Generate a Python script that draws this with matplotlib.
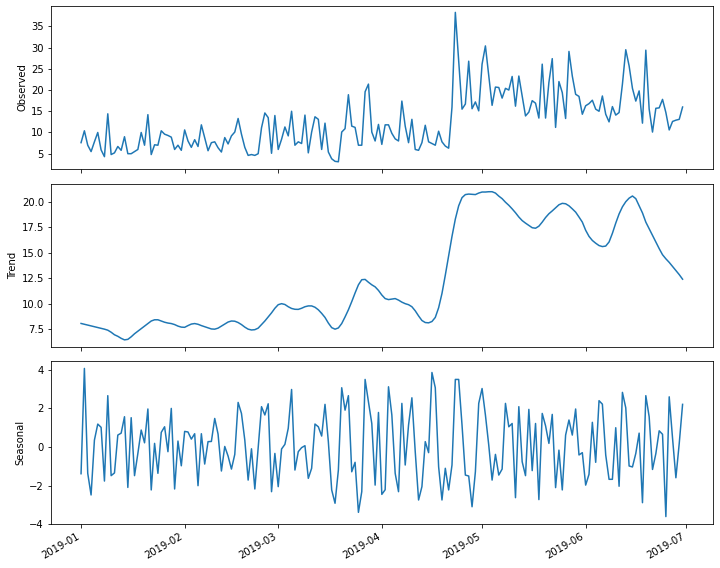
"""
Décomposition saisonnière : observé, tendance et saisonnalité (jan.-juin 2019).
"""
import numpy as np
import pandas as pd
import matplotlib
matplotlib.use('Agg')  # pas d'écran
import matplotlib.pyplot as plt

# ── Données (une valeur par jour) ───────────────────────────────────────────
dates = pd.date_range('2019-01-01', '2019-06-30', freq='D')

observed = [
    7.6, 10.4, 7.0, 5.5, 7.8, 10.0, 5.9, 4.3, 14.4, 4.8,
    5.2, 6.7, 5.8, 9.0, 5.0, 5.0, 5.5, 6.0, 10.0, 7.0,
    14.2, 4.8, 7.1, 7.0, 10.4, 9.6, 9.3, 8.9, 6.0, 7.0,
    5.8, 10.6, 8.0, 6.5, 8.3, 6.7, 11.8, 8.8, 5.7, 7.6,
    7.8, 6.4, 5.4, 8.8, 7.3, 9.2, 10.1, 13.3, 9.6, 6.5,
    4.6, 4.8, 4.6, 5.0, 11.1, 14.6, 13.5, 5.1, 14.0, 6.0,
    8.4, 11.3, 9.2, 15.0, 7.0, 7.8, 7.4, 14.1, 5.2, 10.1,
    13.7, 13.1, 6.0, 12.2, 5.4, 3.8, 3.2, 3.1, 10.1, 10.9,
    18.9, 11.5, 11.2, 7.0, 7.0, 19.6, 21.4, 10.1, 8.0, 11.9,
    7.2, 11.8, 11.8, 9.8, 8.5, 8.0, 17.4, 11.5, 7.6, 13.1,
    6.0, 5.8, 7.6, 11.7, 7.8, 7.4, 7.0, 10.3, 7.8, 6.8,
    6.3, 16.0, 38.3, 27.0, 15.5, 16.7, 26.8, 15.6, 17.2, 15.1,
    26.1, 30.4, 23.3, 16.4, 20.7, 20.6, 18.1, 20.4, 20.0, 23.2,
    16.2, 23.3, 18.6, 13.9, 14.8, 17.5, 16.9, 13.4, 26.1, 13.4,
    21.8, 27.4, 11.2, 22.0, 19.4, 13.3, 29.1, 23.3, 19.0, 18.5,
    14.3, 16.3, 16.8, 17.6, 15.5, 15.0, 18.6, 14.3, 12.5, 16.1,
    14.1, 14.7, 21.4, 29.5, 25.7, 20.4, 17.4, 19.8, 12.2, 29.4,
    15.5, 10.1, 15.7, 15.8, 17.8, 14.7, 10.6, 12.6, 12.9, 13.1,
    16.0,
]

trend = [
    8.06, 7.98, 7.90, 7.82, 7.74, 7.66, 7.58, 7.50, 7.40, 7.20,
    6.95, 6.80, 6.60, 6.45, 6.50, 6.75, 7.05, 7.30, 7.55, 7.80,
    8.05, 8.30, 8.42, 8.42, 8.30, 8.18, 8.10, 8.05, 7.95, 7.80,
    7.70, 7.68, 7.85, 8.00, 8.05, 7.98, 7.85, 7.74, 7.62, 7.52,
    7.50, 7.60, 7.80, 8.00, 8.20, 8.30, 8.28, 8.15, 7.95, 7.70,
    7.50, 7.42, 7.45, 7.60, 7.95, 8.30, 8.70, 9.10, 9.55, 9.90,
    10.00, 9.92, 9.70, 9.53, 9.45, 9.44, 9.55, 9.70, 9.78, 9.78,
    9.65, 9.40, 9.05, 8.65, 8.10, 7.65, 7.50, 7.62, 8.05, 8.70,
    9.40, 10.20, 11.05, 11.85, 12.35, 12.38, 12.10, 11.85, 11.65, 11.30,
    10.85, 10.50, 10.40, 10.45, 10.50, 10.35, 10.15, 10.00, 9.90, 9.70,
    9.30, 8.80, 8.35, 8.15, 8.12, 8.25, 8.65, 9.60, 11.00, 12.80,
    14.70, 16.60, 18.30, 19.60, 20.40, 20.70, 20.75, 20.72, 20.70, 20.85,
    20.95, 20.95, 20.98, 20.98, 20.85, 20.55, 20.30, 19.95, 19.65, 19.30,
    18.92, 18.50, 18.15, 17.90, 17.67, 17.45, 17.40, 17.60, 18.00, 18.45,
    18.82, 19.10, 19.40, 19.70, 19.84, 19.80, 19.60, 19.30, 18.98, 18.50,
    18.00, 17.20, 16.60, 16.20, 15.93, 15.70, 15.60, 15.65, 16.05, 16.90,
    17.90, 18.80, 19.50, 20.00, 20.35, 20.56, 20.30, 19.60, 18.90, 18.00,
    17.35, 16.70, 16.05, 15.40, 14.80, 14.40, 14.05, 13.65, 13.25, 12.85,
    12.40,
]

seasonal = [
    -1.38, 4.07, -1.36, -2.48, 0.36, 1.19, 1.02, -1.76, 2.66, -1.48,
    -1.34, 0.62, 0.72, 1.57, -2.09, 1.52, -1.48, -0.33, 0.88, 0.22,
    1.97, -2.22, 0.19, -1.36, 0.76, 1.05, -0.24, 2.00, -2.17, 0.31,
    -0.97, 0.81, 0.78, 0.41, 0.69, -2.00, 0.69, -0.88, 0.28, 0.29,
    1.48, 0.67, -1.24, 0.03, -0.47, -1.14, -0.38, 2.31, 1.74, 0.36,
    -1.71, -0.09, -2.17, -0.07, 2.09, 1.66, 2.24, -2.31, -0.33, -2.05,
    -0.10, 0.14, 0.97, 2.98, -1.19, -0.24, -0.03, 0.07, -1.62, -1.10,
    1.19, 1.05, 0.57, 2.21, 0.28, -2.22, -2.91, -1.19, 3.07, 1.91,
    2.66, -1.28, -0.79, -3.38, -2.31, 3.50, 2.34, 1.22, -1.97, 1.79,
    -2.45, -2.21, 3.12, 1.66, -1.36, -2.31, 2.26, -0.93, 1.14, 2.55,
    -0.24, -2.74, -2.05, 0.28, -0.29, 3.86, 3.07, -1.02, -2.74, -1.10,
    -2.22, -0.93, 3.50, 3.50, 1.14, -1.45, -1.50, -3.09, -1.28, 2.26,
    3.03, 1.66, 0.10, -1.71, -0.38, -1.45, -1.14, 2.26, 1.05, 1.22,
    -2.62, 2.09, -0.76, -1.48, 1.95, -1.22, 1.22, -2.72, 1.74, 1.10,
    0.19, 1.69, -2.10, -0.16, -2.22, 0.62, 1.40, 0.62, 1.97, -0.41,
    -0.29, -1.97, -1.41, 1.28, -0.79, 2.40, 2.22, -0.41, -1.67, -1.67,
    1.00, -2.03, 2.83, 2.03, -0.98, -1.03, -0.33, 0.72, -2.88, 2.66,
    1.57, -1.16, -0.34, 0.84, 0.66, -3.60, 2.60, 0.45, -1.59, 0.19,
    2.21,
]

series = [observed, trend, seasonal]
labels = ['Observed', 'Trend', 'Seasonal']

# ── Figure : trois panneaux partageant l'axe des dates ─────────────────────
fig, axes = plt.subplots(3, 1, sharex=True, figsize=(10, 568 / 72), dpi=72)

# positions des panneaux (gauche, bas, largeur, hauteur) en fraction de la figure
boxes = [(0.0708, 0.7025, 0.919, 0.2869),
         (0.0708, 0.3886, 0.919, 0.2869),
         (0.0708, 0.0769, 0.919, 0.2875)]

for ax, values, label, box in zip(axes, series, labels, boxes):
    ax.plot(dates, values, color='#1f77b4', linewidth=1.5)
    ax.set_ylabel(label)
    ax.set_position(box)

axes[0].set_ylim(1.4, 39.8)  # pas de graduation 40 en haut
axes[1].set_yticks([7.5, 10.0, 12.5, 15.0, 17.5, 20.0])
axes[2].set_yticks([-4, -2, 0, 2, 4])

# rotation des dates comme autofmt_xdate
for lab in axes[2].get_xticklabels():
    lab.set_rotation(30)
    lab.set_ha('right')

plt.savefig('out.png', dpi=72)
plt.close()
